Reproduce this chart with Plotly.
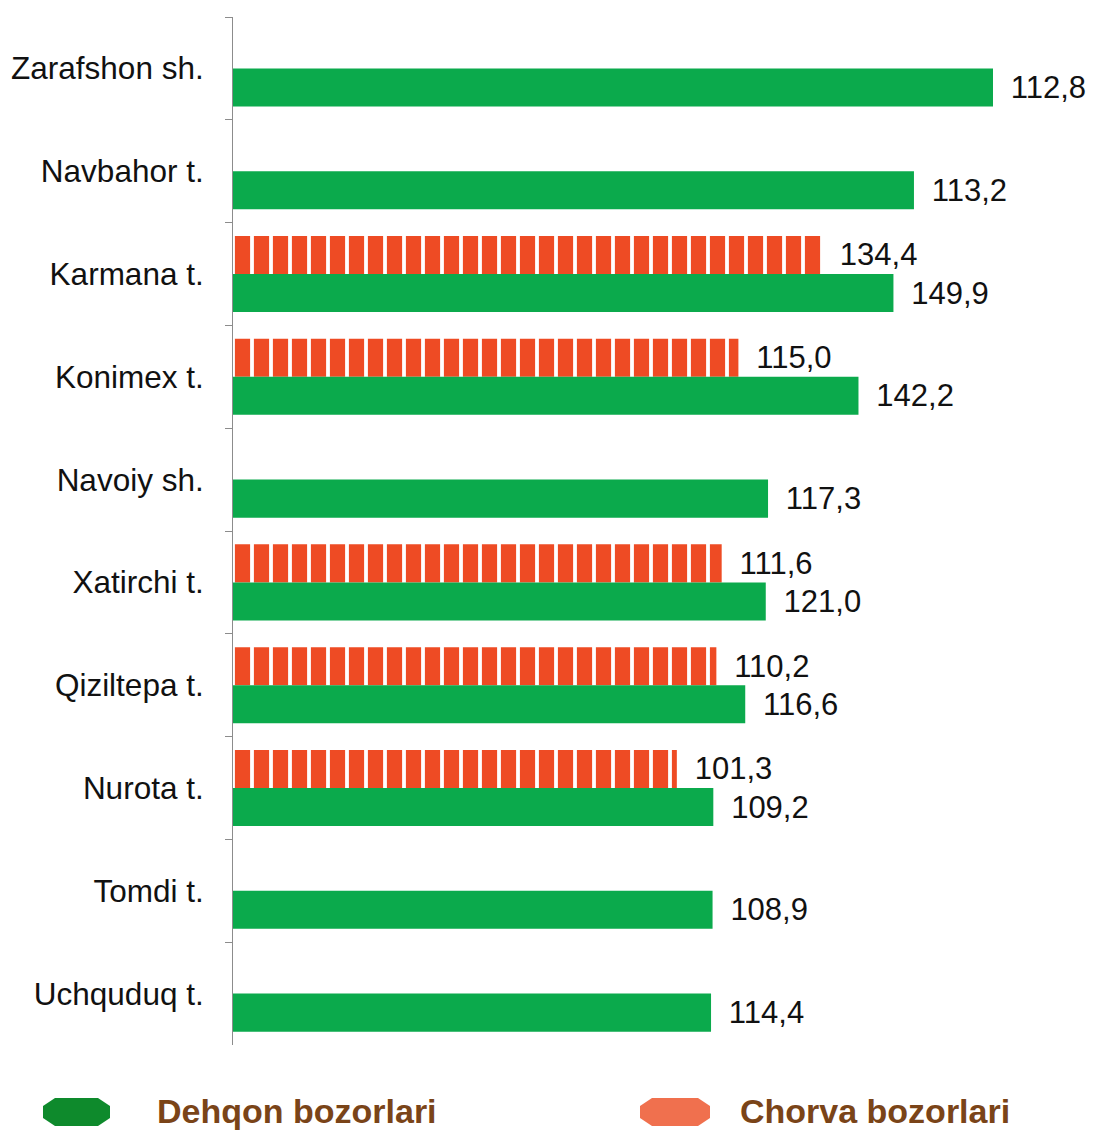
import plotly.graph_objects as go

categories = ["Zarafshon sh.", "Navbahor t.", "Karmana t.", "Konimex t.", "Navoiy sh.",
              "Xatirchi t.", "Qiziltepa t.", "Nurota t.", "Tomdi t.", "Uchquduq t."]
# values printed on the bars
dehqon_labels = ["112,8", "113,2", "149,9", "142,2", "117,3", "121,0", "116,6", "109,2", "108,9", "114,4"]
chorva_labels = [None, None, "134,4", "115,0", None, "111,6", "110,2", "101,3", None, None]
# bar lengths as drawn in the picture (longest bar = 100; the source chart is not to scale)
dehqon_length = [100, 89.6, 86.9, 82.3, 70.4, 70.1, 67.4, 63.2, 63.1, 62.9]
chorva_length = [None, None, 77.5, 66.5, None, 64.3, 63.6, 58.4, None, None]

FONT = "Liberation Sans, Arial, sans-serif"
GREEN = "#0BAA4C"
ORANGE = "#EE4B24"
GAP = "\u00a0\u2009"

fig = go.Figure()
fig.add_trace(go.Bar(
    y=categories, x=chorva_length, orientation="h", name="Chorva bozorlari",
    text=[(GAP + t) if t else None for t in chorva_labels], textposition="outside",
    textfont=dict(family=FONT, size=31, color="#111111"),
    marker=dict(color=ORANGE, line=dict(width=0),
                pattern=dict(shape="|", fgcolor=ORANGE, bgcolor="white", size=19,
                             solidity=0.8, fillmode="replace")),
    cliponaxis=False, constraintext="none", showlegend=False,
))
fig.add_trace(go.Bar(
    y=categories, x=dehqon_length, orientation="h", name="Dehqon bozorlari",
    text=[GAP + t for t in dehqon_labels], textposition="outside",
    textfont=dict(family=FONT, size=31, color="#111111"),
    marker=dict(color=GREEN, line=dict(width=0)),
    cliponaxis=False, constraintext="none", showlegend=False,
))

# page has an 8px body margin: figure drawn from (8, 8)
OFF = 8
W, H = 1099 - OFF, 1131 - OFF
L, T, B = 233 - OFF, 17 - OFF, H - (1045 - OFF)
pw, ph = W - L, H - T - B

def px(x):
    return (x - OFF - L) / pw

def py(y):
    return (H - B - (y - OFF)) / ph

def octagon(x0, x1, y0, y1, bx, by):
    pts = [(x0, y0 + by), (x0 + bx, y0), (x1 - bx, y0), (x1, y0 + by),
           (x1, y1 - by), (x1 - bx, y1), (x0 + bx, y1), (x0, y1 - by)]
    return "M " + " L ".join(f"{px(a):.5f},{py(b):.5f}" for a, b in pts) + " Z"

shapes = [
    dict(type="path", xref="paper", yref="paper", path=octagon(43, 110, 1098, 1126, 12, 8),
         fillcolor="#0E8A2C", line=dict(width=0)),
    dict(type="path", xref="paper", yref="paper", path=octagon(640, 710, 1098, 1126, 12, 8),
         fillcolor="#F0704E", line=dict(width=0)),
]
annotations = [
    dict(xref="paper", yref="paper", x=px(155), y=py(1111), xanchor="left", yanchor="middle",
         text="<b>Dehqon bozorlari</b>", showarrow=False,
         font=dict(family=FONT, size=34, color="#7A4418")),
    dict(xref="paper", yref="paper", x=px(738), y=py(1111), xanchor="left", yanchor="middle",
         text="<b>Chorva bozorlari</b>", showarrow=False,
         font=dict(family=FONT, size=34, color="#7A4418")),
]

fig.update_layout(
    width=W, height=H,
    margin=dict(l=L, r=0, t=T, b=B, pad=0),
    paper_bgcolor="white", plot_bgcolor="white",
    barmode="group", bargap=0.26, bargroupgap=0,
    shapes=shapes, annotations=annotations,
    xaxis=dict(visible=False, range=[0, 100 * pw / 760]),
    yaxis=dict(autorange="reversed", showline=True, linecolor="#8C8C8C", linewidth=1,
               ticks="outside", tickson="boundaries", ticklen=7, tickcolor="#8C8C8C",
               ticklabelstandoff=22, showgrid=False, zeroline=False,
               tickfont=dict(family=FONT, size=31.5, color="#111111")),
)

fig.write_html("out.html")
